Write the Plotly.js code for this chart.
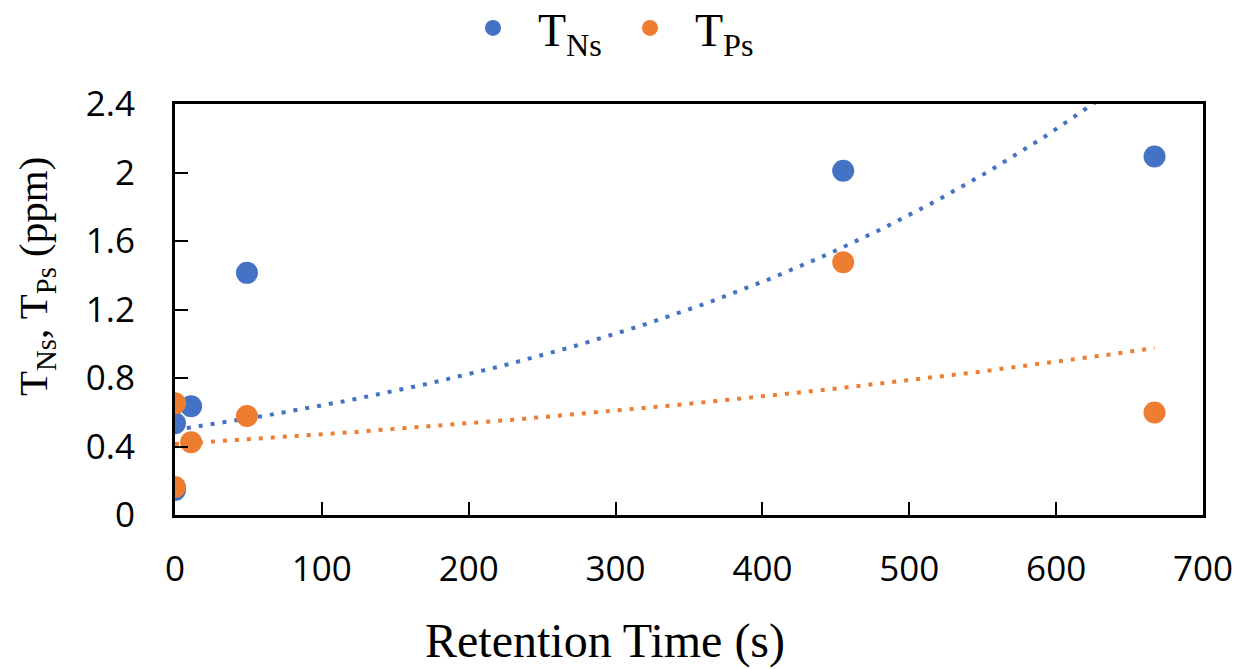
<!DOCTYPE html>
<html>
<head>
<meta charset="utf-8">
<script src="https://cdn.plot.ly/plotly-3.0.1.min.js"></script>
<style>html,body{margin:0;padding:0;background:#fff;}#chart{width:1248px;height:669px;}</style>
</head>
<body>
<div id="chart"></div>
<script>
// Data
const retentionTime = [0, 0, 11, 49, 455, 667];
const tNs = [0.146, 0.536, 0.635, 1.414, 2.010, 2.093];
const tPs = [0.163, 0.652, 0.425, 0.578, 1.476, 0.598];
const seriesNames = ['T<sub>Ns</sub>', 'T<sub>Ps</sub>'];
const seriesColors = ['#4472C4', '#ED7D31'];
const xTicks = [0, 100, 200, 300, 400, 500, 600, 700];
const yTicks = [0, 0.4, 0.8, 1.2, 1.6, 2, 2.4];
const yTickLabels = ['0', '0.4', '0.8', '1.2', '1.6', '2', '2.4'];

// Exponential trendline (least squares on ln y), as in a spreadsheet trendline
function expFit(xs, ys) {
  const n = xs.length;
  const ly = ys.map(Math.log);
  const mx = xs.reduce((a, b) => a + b, 0) / n;
  const my = ly.reduce((a, b) => a + b, 0) / n;
  let sxy = 0, sxx = 0;
  for (let i = 0; i < n; i++) { sxy += (xs[i] - mx) * (ly[i] - my); sxx += (xs[i] - mx) ** 2; }
  const b = sxy / sxx;
  const a = Math.exp(my - b * mx);
  const xmin = Math.min(...xs), xmax = Math.max(...xs);
  const tx = [], ty = [];
  const steps = 200;
  for (let i = 0; i <= steps; i++) {
    const x = xmin + (xmax - xmin) * i / steps;
    tx.push(x); ty.push(a * Math.exp(b * x));
  }
  return {x: tx, y: ty};
}

const fitN = expFit(retentionTime, tNs);
const fitP = expFit(retentionTime, tPs);

const traces = [
  {x: fitN.x, y: fitN.y, mode: 'lines', showlegend: false, hoverinfo: 'skip',
   line: {color: seriesColors[0], width: 4, dash: '4px,8px'}},
  {x: fitP.x, y: fitP.y, mode: 'lines', showlegend: false, hoverinfo: 'skip',
   line: {color: seriesColors[1], width: 4, dash: '4px,8px'}},
  {x: retentionTime, y: tNs, mode: 'markers', name: seriesNames[0],
   marker: {color: seriesColors[0], size: 22}},
  {x: retentionTime, y: tPs, mode: 'markers', name: seriesNames[1],
   marker: {color: seriesColors[1], size: 22}}
];

const layout = {
  width: 1248, height: 669,
  margin: {l: 175, r: 45, t: 104, b: 154, autoexpand: false},
  paper_bgcolor: '#fff', plot_bgcolor: '#fff',
  showlegend: true,
  legend: {orientation: 'h', x: (448 - 175) / 1028, xanchor: 'left', y: (515 - 28) / 411, yanchor: 'middle',
    bgcolor: 'rgba(0,0,0,0)',
    font: {family: 'Liberation Serif, Times New Roman, serif', size: 46, color: '#000'},
    itemwidth: 80, entrywidth: 62, entrywidthmode: 'pixels', traceorder: 'normal'},
  xaxis: {
    range: [0, 700], tickvals: xTicks, ticktext: xTicks.map(String),
    showgrid: false, zeroline: false, showline: true, linecolor: '#000', linewidth: 3,
    mirror: true, ticks: 'inside', ticklen: 13, tickwidth: 2, tickcolor: '#000',
    ticklabelstandoff: 21,
    tickfont: {family: 'Open Sans, sans-serif', size: 35, color: '#000'}
  },
  yaxis: {
    range: [0, 2.4], tickvals: yTicks, ticktext: yTickLabels,
    showgrid: false, zeroline: false, showline: true, linecolor: '#000', linewidth: 3,
    mirror: true, ticks: 'inside', ticklen: 13, tickwidth: 2, tickcolor: '#000',
    ticklabelstandoff: 30,
    tickfont: {family: 'Open Sans, sans-serif', size: 35, color: '#000'}
  },
  annotations: [
    {text: 'Retention Time (s)', xref: 'paper', yref: 'paper',
     x: (605 - 175) / 1028, y: (515 - 641) / 411, xanchor: 'center', yanchor: 'middle', showarrow: false,
     font: {family: 'Liberation Serif, Times New Roman, serif', size: 48, color: '#000'}},
    {text: 'T<sub>Ns</sub>, T<sub>Ps</sub> (ppm)', xref: 'paper', yref: 'paper',
     x: (36 - 175) / 1028, y: (515 - 277) / 411, xanchor: 'center', yanchor: 'middle', showarrow: false,
     textangle: -90,
     font: {family: 'Liberation Serif, Times New Roman, serif', size: 41, color: '#000'}}
  ]
};

Plotly.newPlot('chart', traces, layout, {displayModeBar: false, staticPlot: true});
</script>
</body>
</html>
